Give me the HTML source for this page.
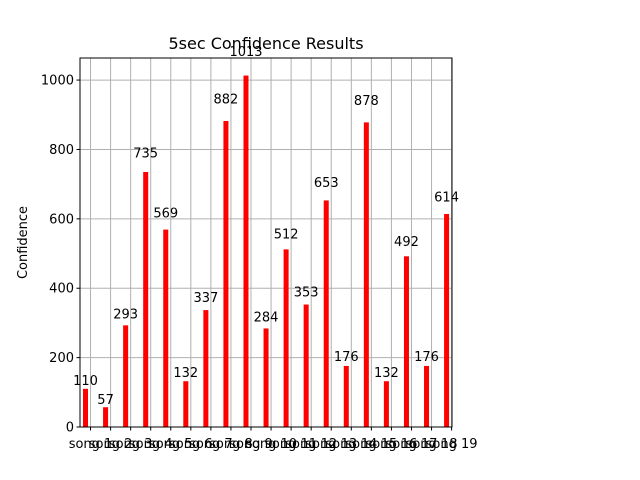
<!DOCTYPE html>
<html><head><meta charset="utf-8"><style>body{margin:0;background:#fff}svg{display:block;font-family:"DejaVu Sans","Liberation Sans",sans-serif}</style></head>
<body>
<svg id="c" width="640" height="480" viewBox="0 0 640 480"></svg>
<script>
const categories=["song 1","song 2","song 3","song 4","song 5","song 6","song 7","song 8","song 9","song 10","song 11","song 12","song 13","song 14","song 15","song 16","song 17","song 18","song 19"];
const values=[110,57,293,735,569,132,337,882,1013,284,512,353,653,176,878,132,492,176,614];
const yTicks=[0,200,400,600,800,1000];
const L=80,R=452,T=58,B=427,xmin=-0.525,xmax=18.02,ymax=1063.6;
const sx=v=>L+(v-xmin)/(xmax-xmin)*(R-L);
const sy=v=>B-v/ymax*(B-T);
const svg=document.getElementById('c');const NS='http://www.w3.org/2000/svg';
function mk(t,a,txt){const e=document.createElementNS(NS,t);for(const k in a)e.setAttribute(k,a[k]);if(txt!==undefined)e.textContent=txt;svg.appendChild(e);return e;}
let e;
categories.forEach((c,i)=>{e=mk('line',{x1:sx(i),x2:sx(i),y1:T,y2:B,stroke:'#b0b0b0','stroke-width':1});

});
yTicks.forEach(v=>{e=mk('line',{x1:L,x2:R,y1:sy(v),y2:sy(v),stroke:'#b0b0b0','stroke-width':1});


e=mk('line',{x1:L-3.5,x2:L,y1:sy(v),y2:sy(v),stroke:'#000'});


e=mk('text',{x:L-6,y:sy(v)+4.5,'text-anchor':'end','font-size':13},v);

});
values.forEach((v,i)=>{const x0=sx(i-0.375),x1=sx(i-0.125);
e=mk('rect',{x:x0,y:sy(v),width:x1-x0,height:B-sy(v),fill:'#ff0000'});


e=mk('text',{x:(x0+x1)/2,y:sy(v*1.05)-2,'text-anchor':'middle','font-size':13},v);

});
categories.forEach((c,i)=>{e=mk('line',{x1:sx(i),x2:sx(i),y1:B,y2:B+3.5,stroke:'#000'});


e=mk('text',{x:sx(i),y:B+21,'text-anchor':'middle','font-size':13},c);

});
e=mk('rect',{x:L,y:T,width:R-L,height:B-T,fill:'none',stroke:'#000','stroke-width':1});


e=mk('text',{x:(L+R)/2,y:T-9,'text-anchor':'middle','font-size':16},'5sec Confidence Results');


e=mk('text',{x:27,y:(T+B)/2,'text-anchor':'middle','font-size':13,transform:'rotate(-90 27 '+((T+B)/2)+')'},'Confidence');


</script>
</body></html>
